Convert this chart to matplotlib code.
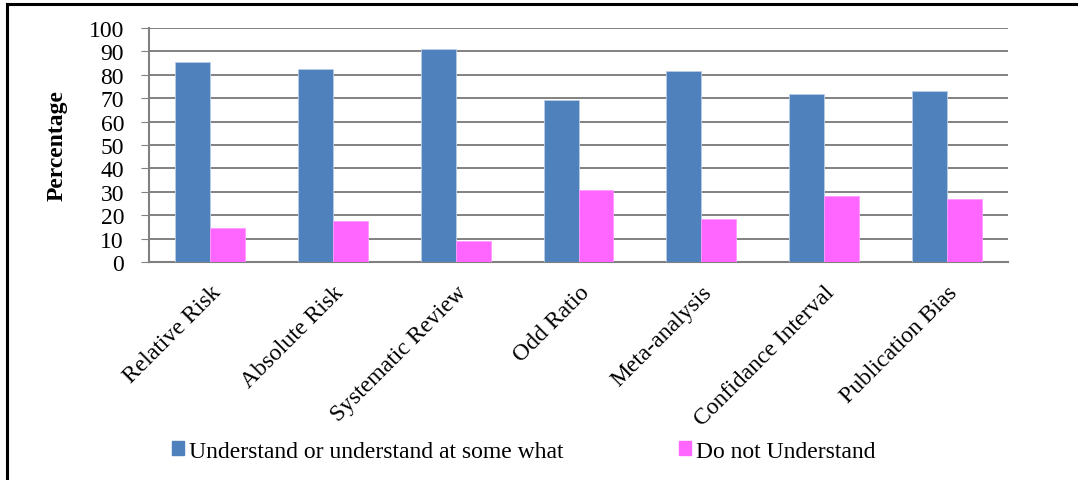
import matplotlib.pyplot as plt
from matplotlib.patches import Patch
from matplotlib.lines import Line2D
import numpy as np

categories = ["Relative Risk", "Absolute Risk", "Systematic Review", "Odd Ratio",
              "Meta-analysis", "Confidance Interval", "Publication Bias"]
understand = [85.4, 82.5, 91.0, 69.2, 81.5, 72.0, 73.0]
not_understand = [14.6, 17.5, 9.0, 30.8, 18.5, 28.0, 27.0]
series_names = ["Understand or understand at some what", "Do not Understand"]
yticks = list(range(0, 101, 10))

blue = "#4f81bd"
pink = "#ff66ff"

plt.rcParams["font.family"] = ["Liberation Serif", "DejaVu Serif"]

fig = plt.figure(figsize=(10.78, 4.81), dpi=100)
ax = fig.add_axes([149 / 1078, 1 - 263 / 481, 859 / 1078, 234 / 481])

x = np.arange(len(categories))
w = 0.285
ax.bar(x - w / 2, understand, w, color=blue, edgecolor="#b9cde5", linewidth=0.6, zorder=3)
ax.bar(x + w / 2, not_understand, w, color=pink, edgecolor="#ff99ff", linewidth=0.6, zorder=3)

ax.set_xlim(-0.5, len(categories) - 0.5)
ax.set_ylim(0, 100)
ax.set_yticks(yticks)
ax.tick_params(axis="y", labelsize=17, direction="out", length=6, color="#808080", pad=12)
ax.tick_params(axis="x", length=0, pad=14)
ax.set_xticks(x)
ax.set_xticklabels(categories, fontsize=17, rotation=45, ha="right", rotation_mode="anchor")
for lbl in ax.get_xticklabels():
    lbl.set_x(lbl.get_position()[0])
ax.yaxis.grid(True, color="#777777", linewidth=1.3, zorder=0)
for s in ["top", "right"]:
    ax.spines[s].set_visible(False)
ax.spines["left"].set_color("#808080")
ax.spines["bottom"].set_color("#808080")
ax.spines["left"].set_linewidth(1.5)
ax.spines["bottom"].set_linewidth(1.5)
ax.set_ylabel("Percentage", fontsize=17, fontweight="bold", labelpad=15)

handles = [Patch(color=blue), Patch(color=pink)]
fig.legend(handles, series_names, loc="center left", ncol=2,
           bbox_to_anchor=(151 / 1078, 1 - 452 / 481), frameon=False,
           fontsize=17, handlelength=0.5, handleheight=0.5, handletextpad=0.2,
           columnspacing=4.9)

# outer frame (top and left only)
fig.add_artist(Line2D([7 / 1078, 1], [1 - 5 / 481, 1 - 5 / 481], color="black", lw=2.2))
fig.add_artist(Line2D([7 / 1078, 7 / 1078], [0, 1 - 5 / 481], color="black", lw=2.2))

fig.savefig("out.png", dpi=100)
